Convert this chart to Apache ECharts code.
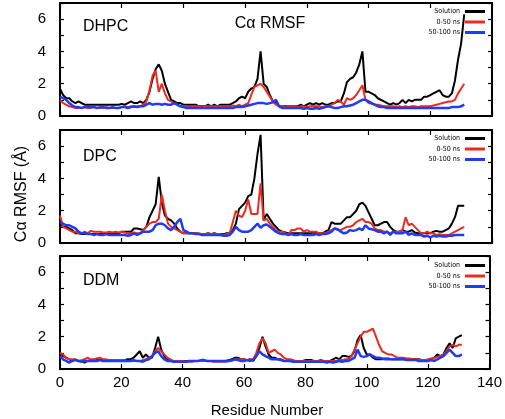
<!DOCTYPE html>
<html>
<head>
<meta charset="utf-8">
<script src="https://cdn.jsdelivr.net/npm/echarts@6/dist/echarts.min.js"></script>
<style>
html,body{margin:0;padding:0;background:#fff;}
#chart{width:505px;height:419px;}
</style>
</head>
<body>
<div id="chart"></div>
<script>
// ---- Data (Cα RMSF in Å, residues 0..131) ----
const panelNames = ["DHPC", "DPC", "DDM"];
const seriesNames = ["Solution", "0-50 ns", "50-100 ns"];
const xTicks = [0, 20, 40, 60, 80, 100, 120, 140];
const yTicks = [0, 2, 4, 6];

const dhpcSolution = [
1.7,1.3,1.1,1.1,0.9,0.8,0.9,0.8,0.7,0.7,
0.7,0.7,0.7,0.7,0.7,0.7,0.7,0.7,0.7,0.7,
0.75,0.7,0.8,0.9,0.8,0.8,0.9,0.8,1.0,1.5,
2.3,2.9,3.2,2.8,2.0,1.5,1.0,0.9,0.8,0.8,
0.7,0.7,0.7,0.7,0.7,0.6,0.6,0.6,0.7,0.6,
0.7,0.6,0.7,0.7,0.7,0.7,0.8,0.9,1.1,1.2,
1.1,1.5,1.7,1.8,2.3,4.0,2.0,1.8,1.3,0.9,
0.8,0.6,0.6,0.6,0.6,0.6,0.6,0.6,0.7,0.6,
0.7,0.8,0.7,0.8,0.7,0.8,0.7,0.7,0.8,0.8,
0.9,0.9,1.4,2.1,2.3,2.4,2.7,3.2,4.0,1.5,
1.5,1.4,1.3,1.1,1.0,0.9,0.8,0.7,0.8,0.7,
0.8,1.0,0.8,1.0,0.9,1.0,1.0,1.0,1.2,1.2,
1.3,1.4,1.5,1.6,1.3,1.2,1.2,1.4,2.2,3.5,
4.5,6.3];
const dhpc0to50 = [
1.0,0.8,0.7,0.6,0.55,0.5,0.5,0.5,0.55,0.5,
0.5,0.55,0.5,0.5,0.5,0.55,0.5,0.5,0.5,0.5,
0.55,0.6,0.55,0.6,0.55,0.6,0.6,0.7,0.9,1.6,
2.5,2.8,1.5,2.0,1.4,1.0,0.9,0.8,0.7,0.6,
0.6,0.6,0.55,0.6,0.6,0.6,0.55,0.6,0.6,0.6,
0.6,0.6,0.6,0.6,0.6,0.6,0.65,0.6,0.7,0.6,
0.7,0.8,1.3,1.8,1.9,2.0,1.8,1.5,1.2,0.9,
0.7,0.6,0.6,0.55,0.6,0.6,0.6,0.55,0.6,0.6,
0.55,0.6,0.6,0.6,0.6,0.55,0.6,0.6,0.7,0.8,
1.0,0.9,0.7,1.1,1.0,1.1,1.3,1.6,1.9,1.0,
0.8,0.75,0.7,0.7,0.65,0.6,0.6,0.6,0.6,0.55,
0.6,0.55,0.6,0.55,0.6,0.6,0.55,0.6,0.6,0.6,
0.6,0.65,0.7,0.75,0.8,0.85,0.9,0.9,1.0,1.4,
1.7,2.0];
const dhpc50to100 = [
1.2,1.1,1.0,0.8,0.65,0.55,0.55,0.5,0.55,0.55,
0.55,0.55,0.5,0.55,0.55,0.5,0.5,0.55,0.5,0.5,
0.55,0.55,0.5,0.55,0.6,0.55,0.6,0.6,0.7,0.8,
0.7,0.75,0.75,0.7,0.75,0.7,0.7,0.8,0.7,0.6,
0.55,0.5,0.5,0.5,0.5,0.5,0.5,0.5,0.5,0.5,
0.5,0.5,0.5,0.5,0.5,0.5,0.5,0.55,0.55,0.55,
0.6,0.65,0.7,0.75,0.8,0.8,0.8,0.75,0.8,0.85,
1.0,0.6,0.5,0.5,0.5,0.5,0.5,0.5,0.5,0.45,
0.5,0.45,0.45,0.5,0.45,0.5,0.55,0.6,0.55,0.5,
0.5,0.55,0.6,0.6,0.65,0.7,0.8,0.9,1.0,1.0,
0.9,0.8,0.7,0.6,0.55,0.55,0.5,0.5,0.5,0.5,
0.5,0.5,0.5,0.5,0.5,0.5,0.5,0.5,0.5,0.5,
0.5,0.5,0.5,0.5,0.5,0.5,0.5,0.55,0.55,0.55,
0.6,0.7];

const dpcSolution = [
1.2,1.0,1.0,0.9,0.8,0.6,0.6,0.55,0.55,0.55,
0.55,0.55,0.55,0.55,0.55,0.55,0.55,0.55,0.55,0.6,
0.7,0.7,0.7,0.7,0.9,0.9,0.85,0.8,1.0,1.6,
2.0,2.4,4.1,2.5,1.7,1.5,1.4,1.2,0.9,0.7,
0.6,0.6,0.6,0.6,0.6,0.55,0.55,0.55,0.6,0.55,
0.6,0.55,0.55,0.55,0.6,0.6,0.8,1.2,2.1,2.3,
2.5,2.9,3.0,4.0,5.5,6.7,1.4,1.8,1.5,1.2,
1.0,0.8,0.7,0.65,0.6,0.6,0.6,0.6,0.6,0.6,
0.6,0.6,0.65,0.6,0.6,0.6,0.7,0.8,1.3,1.2,
1.2,1.2,1.4,1.6,1.6,1.8,2.0,2.4,2.5,2.3,
1.9,1.5,1.1,1.1,1.2,1.3,1.3,1.0,0.8,0.7,
0.7,0.8,0.7,0.7,0.8,0.65,0.6,0.6,0.6,0.6,
0.6,0.7,0.75,0.7,0.7,0.8,0.9,1.2,1.6,2.3,
2.3,2.3];
const dpc0to50 = [
1.7,1.0,0.9,0.8,0.7,0.7,0.6,0.6,0.7,0.6,
0.75,0.7,0.7,0.7,0.65,0.65,0.7,0.65,0.7,0.65,
0.7,0.65,0.6,0.6,0.65,0.6,0.6,0.8,1.0,1.2,
1.3,1.3,1.5,3.0,2.0,1.2,1.0,0.9,0.8,0.7,
0.6,0.6,0.6,0.6,0.6,0.6,0.55,0.55,0.6,0.55,
0.6,0.55,0.55,0.5,0.55,0.6,1.3,2.0,1.7,1.6,
2.0,2.7,1.8,1.8,1.8,3.7,1.4,1.5,1.2,1.0,
0.8,0.7,0.7,0.6,0.5,0.8,0.8,0.9,0.9,0.7,
0.8,0.7,0.7,0.7,0.6,0.6,0.6,0.7,0.8,0.9,
0.8,0.8,0.9,1.0,1.0,1.1,1.3,1.4,1.5,1.3,
1.3,1.2,0.9,0.8,0.8,0.7,0.7,0.6,0.7,0.7,
0.7,0.8,1.6,1.1,1.2,1.0,0.8,0.6,0.6,0.7,
0.6,0.6,0.5,0.55,0.5,0.5,0.5,0.6,0.7,0.8,
0.9,1.0];
const dpc50to100 = [
1.3,1.2,1.1,1.1,1.0,0.9,0.7,0.6,0.6,0.55,
0.55,0.5,0.55,0.5,0.5,0.55,0.5,0.5,0.5,0.5,
0.5,0.5,0.45,0.5,0.6,0.5,0.6,0.7,0.7,0.7,
0.8,1.1,1.2,1.2,1.1,0.9,0.8,1.0,1.3,1.5,
0.8,0.7,0.6,0.6,0.55,0.55,0.5,0.5,0.5,0.5,
0.5,0.5,0.5,0.45,0.45,0.5,0.7,1.0,0.8,0.7,
0.7,0.7,0.8,1.0,1.2,0.95,1.1,1.15,1.0,0.85,
0.7,0.6,0.55,0.55,0.5,0.55,0.5,0.5,0.55,0.5,
0.5,0.5,0.5,0.55,0.5,0.55,0.55,0.6,0.7,0.9,
0.85,0.7,0.6,0.65,0.8,0.75,0.8,0.9,0.8,1.1,
0.9,0.85,0.8,0.7,0.7,0.6,0.7,0.5,0.7,0.6,
0.6,0.6,0.7,0.5,0.6,0.5,0.5,0.5,0.4,0.45,
0.35,0.45,0.4,0.45,0.4,0.4,0.45,0.45,0.5,0.5,
0.5,0.5];

const ddmSolution = [
1.0,0.8,0.7,0.6,0.5,0.6,0.5,0.5,0.4,0.5,
0.55,0.55,0.55,0.55,0.55,0.5,0.55,0.55,0.5,0.55,
0.55,0.55,0.6,0.6,0.7,0.9,1.1,0.7,0.9,0.7,
0.7,1.3,2.0,1.2,0.8,0.6,0.5,0.5,0.5,0.5,
0.5,0.5,0.5,0.5,0.5,0.5,0.5,0.5,0.5,0.5,
0.5,0.5,0.5,0.5,0.5,0.55,0.6,0.7,0.7,0.6,
0.6,0.55,0.6,0.5,0.8,1.3,2.0,1.4,0.9,0.7,
0.7,0.6,0.6,0.5,0.5,0.5,0.5,0.5,0.5,0.5,
0.55,0.55,0.55,0.5,0.5,0.55,0.5,0.5,0.5,0.6,
0.7,0.6,0.8,0.8,0.75,0.8,1.1,1.8,2.1,1.3,
0.9,0.9,0.7,0.6,0.6,0.6,0.65,0.65,0.6,0.6,
0.6,0.6,0.6,0.6,0.6,0.6,0.6,0.6,0.55,0.55,
0.55,0.6,0.7,0.9,0.8,0.9,1.3,1.6,1.3,1.9,
2.0,2.1];
const ddm0to50 = [
1.0,0.9,0.7,0.6,0.6,0.6,0.5,0.55,0.6,0.7,
0.6,0.6,0.65,0.7,0.6,0.6,0.55,0.55,0.55,0.55,
0.55,0.55,0.5,0.5,0.5,0.5,0.5,0.55,0.6,0.7,
0.8,1.1,1.3,1.1,0.9,0.7,0.6,0.5,0.5,0.5,
0.5,0.45,0.45,0.45,0.5,0.5,0.5,0.5,0.5,0.5,
0.45,0.45,0.45,0.45,0.45,0.5,0.5,0.6,0.6,0.6,
0.6,0.55,0.6,0.6,1.0,1.6,1.9,1.6,1.0,1.1,
1.2,1.0,0.9,0.7,0.6,0.6,0.55,0.5,0.5,0.5,
0.5,0.5,0.5,0.5,0.5,0.5,0.5,0.5,0.5,0.5,
0.5,0.55,0.55,0.6,0.6,0.8,1.2,1.6,2.0,2.3,
2.3,2.4,2.5,2.0,1.5,1.1,1.0,0.9,0.9,0.8,
0.7,0.7,0.7,0.65,0.65,0.6,0.6,0.6,0.55,0.55,
0.6,0.65,0.7,0.75,0.8,0.9,1.1,1.4,1.5,1.4,
1.5,1.5];
const ddm50to100 = [
0.8,0.6,0.5,0.4,0.5,0.55,0.5,0.45,0.5,0.5,
0.5,0.5,0.5,0.55,0.5,0.5,0.5,0.5,0.5,0.5,
0.5,0.5,0.5,0.5,0.55,0.5,0.5,0.45,0.55,0.6,
0.8,1.0,1.1,0.8,0.6,0.5,0.5,0.45,0.45,0.45,
0.45,0.45,0.5,0.5,0.5,0.5,0.55,0.55,0.5,0.5,
0.5,0.5,0.5,0.5,0.5,0.5,0.55,0.6,0.55,0.5,
0.5,0.55,0.5,0.6,0.8,1.1,0.9,0.8,0.7,0.6,
0.6,0.6,0.55,0.5,0.5,0.5,0.45,0.45,0.45,0.45,
0.45,0.45,0.45,0.45,0.45,0.45,0.45,0.4,0.45,0.4,
0.45,0.5,0.45,0.5,0.5,0.6,0.7,1.2,0.8,0.75,
0.8,0.9,0.8,0.7,0.7,0.65,0.6,0.6,0.6,0.6,
0.6,0.6,0.6,0.55,0.55,0.55,0.55,0.5,0.5,0.5,
0.5,0.55,0.5,0.6,0.7,0.8,1.0,1.2,1.0,0.8,
0.8,0.9];

const panelData = [
  [dhpcSolution, dhpc0to50, dhpc50to100],
  [dpcSolution, dpc0to50, dpc50to100],
  [ddmSolution, ddm0to50, ddm50to100]
];

// ---- Layout / style ----
const colors = ["#000000", "#ee2a1e", "#1f3cf2"];
const widths = [2, 2, 2.5];
const gridTops = [3, 130, 256];
const gridH = 113;
const gridLeft = 60, gridW = 432;
const legendTops = [7, 134, 261];
const font = "'Liberation Sans', Arial, sans-serif";

const chart = echarts.init(document.getElementById('chart'), null, {renderer: 'canvas'});

const grid = [], xAxis = [], yAxis = [], series = [], legend = [];
for (let p = 0; p < 3; p++) {
  grid.push({left: gridLeft, top: gridTops[p], width: gridW, height: gridH, show: false});
  const axLine = {show: true, onZero: false, lineStyle: {color: '#000', width: 2}};
  xAxis.push({
    type: 'value', gridIndex: p, min: 0, max: 140, interval: 20, position: 'bottom',
    axisLine: axLine,
    axisTick: {show: true, inside: true, length: 5, lineStyle: {color: '#000', width: 1.2}},
    axisLabel: {show: p === 2, color: '#000', fontSize: 15, fontFamily: font, margin: 6,
      formatter: v => xTicks.includes(v) ? String(v) : ''},
    splitLine: {show: false}
  });
  xAxis.push({
    type: 'value', gridIndex: p, min: 0, max: 140, interval: 20, position: 'top',
    axisLine: axLine,
    axisTick: {show: true, inside: true, length: 5, lineStyle: {color: '#000', width: 1.2}},
    axisLabel: {show: false}, splitLine: {show: false}
  });
  yAxis.push({
    type: 'value', gridIndex: p, min: 0, max: 7, interval: 1, position: 'left',
    axisLine: axLine,
    axisTick: {show: true, inside: true, length: 4, lineStyle: {color: '#000', width: 1.2}},
    axisLabel: {show: true, color: '#000', fontSize: 15, fontFamily: font, margin: 14,
      formatter: v => yTicks.includes(v) ? String(v) : ''},
    splitLine: {show: false}
  });
  yAxis.push({
    type: 'value', gridIndex: p, min: 0, max: 7, interval: 1, position: 'right',
    axisLine: axLine,
    axisTick: {show: true, inside: true, length: 4, lineStyle: {color: '#000', width: 1.2}},
    axisLabel: {show: false}, splitLine: {show: false}
  });
  for (let s = 0; s < 3; s++) {
    series.push({
      type: 'line', name: seriesNames[s], xAxisIndex: 2 * p, yAxisIndex: 2 * p,
      data: panelData[p][s].map((v, i) => [i, v]),
      showSymbol: false, symbol: 'none', animation: false,
      lineStyle: {color: colors[s], width: widths[s]},
      itemStyle: {color: colors[s]},
      z: 2 + s
    });
  }
  legend.push({
    orient: 'vertical', right: 20, top: legendTops[p], align: 'right', padding: 0,
    icon: 'rect', itemWidth: 20, itemHeight: 3, itemGap: 1.5,
    textStyle: {fontSize: 7, lineHeight: 9, color: '#000', fontFamily: "'DejaVu Sans Condensed', 'DejaVu Sans', sans-serif"},
    data: seriesNames, selectedMode: false
  });
}

const graphic = [
  {type: 'text', left: 83, top: 19, style: {text: panelNames[0], font: '16px ' + font, fill: '#000'}},
  {type: 'text', left: 83, top: 149, style: {text: panelNames[1], font: '16px ' + font, fill: '#000'}},
  {type: 'text', left: 83, top: 273, style: {text: panelNames[2], font: '16px ' + font, fill: '#000'}},
  {type: 'text', x: 270, y: 24, style: {text: 'Cα RMSF', font: '16px ' + font, fill: '#000', textAlign: 'center', textVerticalAlign: 'middle'}},
  {type: 'text', x: 267, y: 411, style: {text: 'Residue Number', font: '15px ' + font, fill: '#000', textAlign: 'center', textVerticalAlign: 'middle'}},
  {type: 'text', x: 22, y: 194, rotation: Math.PI / 2, style: {text: 'Cα RMSF (Å)', font: '16px ' + font, fill: '#000', textAlign: 'center', textVerticalAlign: 'middle'}}
];

chart.setOption({
  backgroundColor: '#fff',
  animation: false,
  grid, xAxis, yAxis, series, legend, graphic
});
</script>
</body>
</html>
